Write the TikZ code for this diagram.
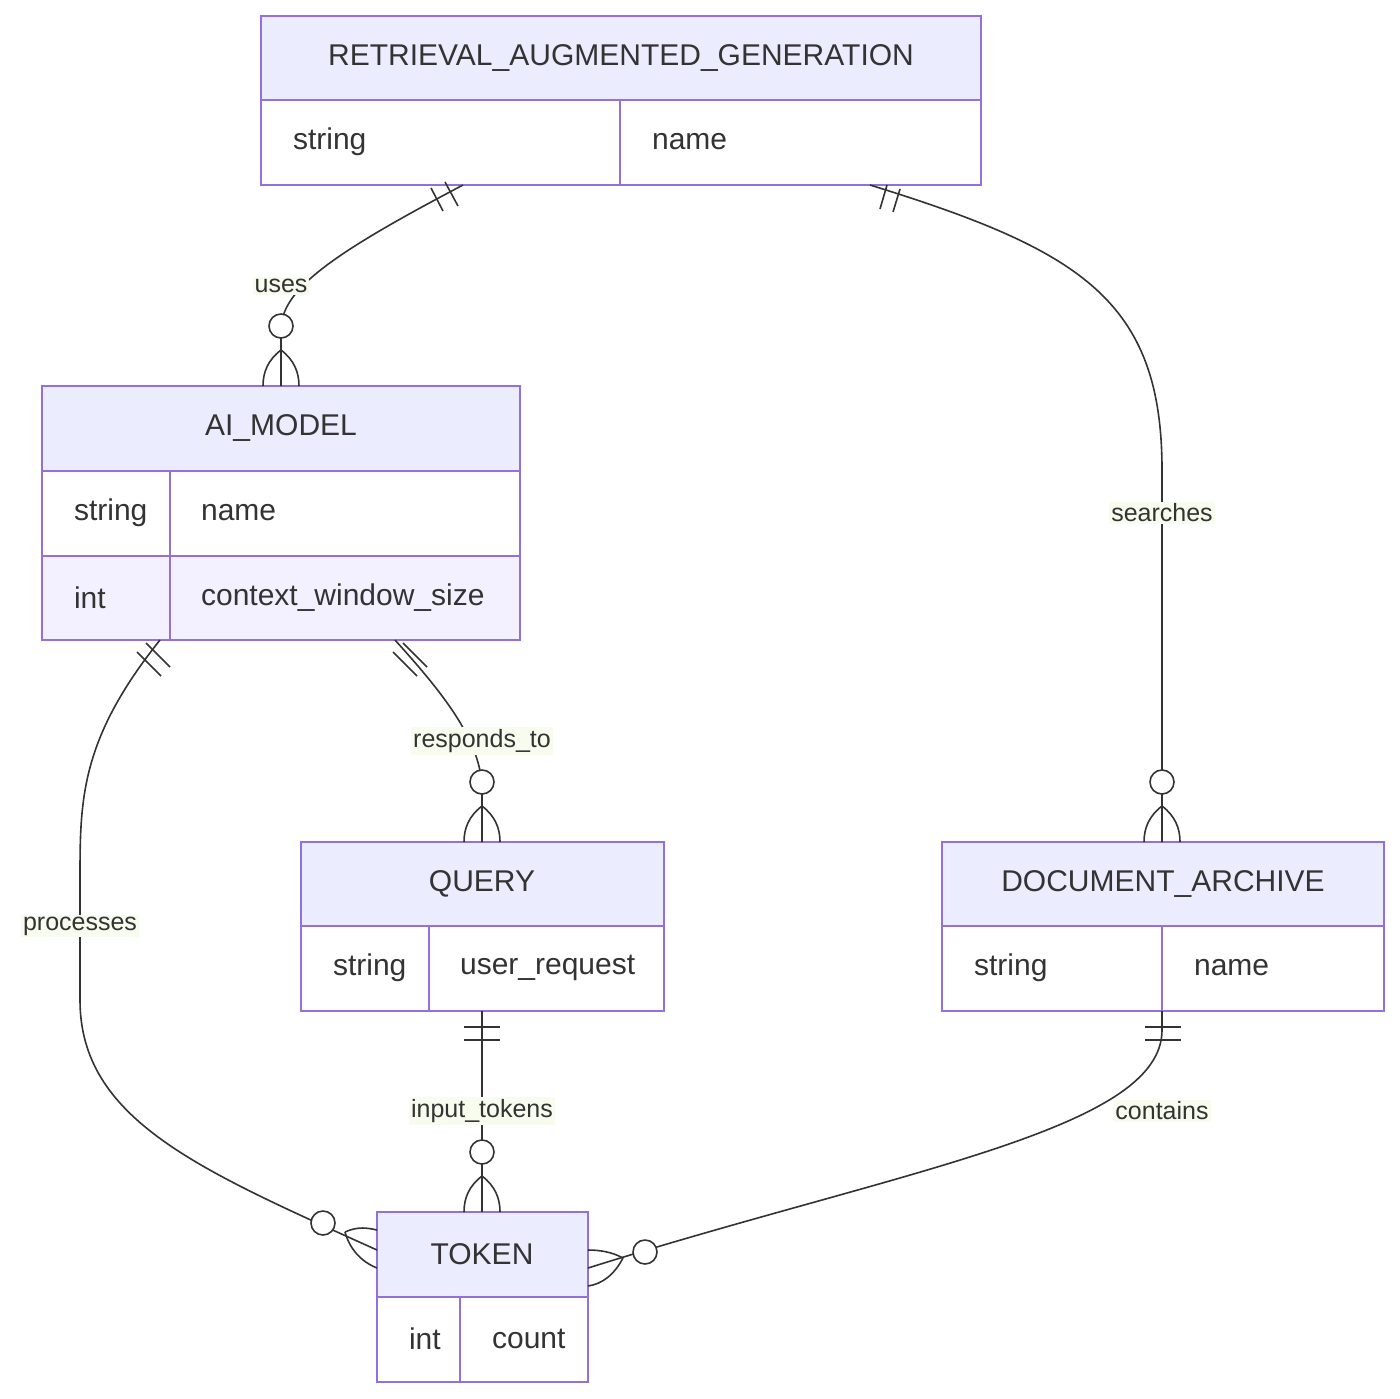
\documentclass[tikz,border=0pt]{standalone}
\usepackage{fontspec}
\setmainfont{Liberation Sans}
\usetikzlibrary{positioning}
\definecolor{entline}{HTML}{9370DB}
\definecolor{enthead}{HTML}{ECECFF}
\definecolor{entrow}{HTML}{F3F1FF}
\definecolor{ink}{HTML}{333333}
\definecolor{lblbg}{HTML}{F8FCEE}
\tikzset{
  head/.style={draw=entline,fill=enthead,line width=1pt},
  cell/.style={draw=entline,fill=white,line width=1pt},
  cellb/.style={draw=entline,fill=entrow,line width=1pt},
  etext/.style={text=ink,font=\fontsize{15}{18}\selectfont},
  ctext/.style={text=ink,font=\fontsize{15}{18}\selectfont,anchor=west},
  rel/.style={draw=ink,line width=0.8pt},
  lbl/.style={fill=lblbg,text=ink,font=\fontsize{12.5}{15}\selectfont,inner sep=1pt},
  ring/.style={draw=ink,fill=white,line width=0.8pt,circle,minimum size=12pt,inner sep=0pt}
}
\begin{document}
\begin{tikzpicture}[x=0.5pt,y=-0.5pt]
\useasboundingbox (0,0) rectangle (1400,1398);

% entity RETRIEVAL_AUGMENTED_GENERATION
\draw[head] (261,16) rectangle (981,100);
\draw[cell] (261,100) rectangle (620,185);
\draw[cell] (620,100) rectangle (981,185);
\node[etext] (rag) at (621,58) {RETRIEVAL\_AUGMENTED\_GENERATION};
\node[ctext] at (286,142) {string};
\node[ctext] at (645,142) {name};

% entity AI_MODEL
\draw[head] (42,386) rectangle (520,471);
\draw[cell] (42,471) rectangle (170,556);
\draw[cell] (170,471) rectangle (520,556);
\draw[cellb] (42,556) rectangle (170,640);
\draw[cellb] (170,556) rectangle (520,640);
\node[etext] (model) at (281,428) {AI\_MODEL};
\node[ctext] at (67,513) {string};
\node[ctext] at (194,513) {name};
\node[ctext] at (67,598) {int};
\node[ctext] at (194,598) {context\_window\_size};

% entity QUERY
\draw[head] (301,842) rectangle (664,926);
\draw[cell] (301,926) rectangle (429,1011);
\draw[cell] (429,926) rectangle (664,1011);
\node[etext] (query) at (482,884) {QUERY};
\node[ctext] at (326,968) {string};
\node[ctext] at (453,968) {user\_request};

% entity DOCUMENT_ARCHIVE
\draw[head] (942,842) rectangle (1384,926);
\draw[cell] (942,926) rectangle (1162,1011);
\draw[cell] (1162,926) rectangle (1384,1011);
\node[etext] (archive) at (1163,884) {DOCUMENT\_ARCHIVE};
\node[ctext] at (967,968) {string};
\node[ctext] at (1187,968) {name};

% entity TOKEN
\draw[head] (377,1212) rectangle (588,1297);
\draw[cell] (377,1297) rectangle (460,1382);
\draw[cell] (460,1297) rectangle (588,1382);
\node[etext] (token) at (482,1254) {TOKEN};
\node[ctext] at (402,1339) {int};
\node[ctext] at (485,1339) {count};

% end points
\coordinate (ragA) at (463,185);
\coordinate (ragB) at (870,185);
\coordinate (modelT) at (281,386);
\coordinate (modelA) at (160,640);
\coordinate (modelB) at (395,640);
\coordinate (queryT) at (482,842);
\coordinate (queryB) at (482,1011);
\coordinate (archT) at (1162,842);
\coordinate (archB) at (1162,1011);
\coordinate (tokT) at (482,1212);
\coordinate (tokL) at (377,1250);
\coordinate (tokR) at (588,1268);

% relations
\draw[rel] (ragA) .. controls (330,255) and (281,290) .. (281,330) -- (modelT);
\draw[rel] (ragB) .. controls (1080,250) and (1162,300) .. (1162,470) -- (archT);
\draw[rel] (modelB) .. controls (440,690) and (482,740) .. (482,790) -- (queryT);
\draw[rel] (modelA) .. controls (80,740) and (80,800) .. (80,880) -- (80,1000)
  .. controls (80,1120) and (200,1170) .. (tokL);
\draw[rel] (queryB) -- (tokT);
\draw[rel] (archB) -- (1162,1030) .. controls (1162,1130) and (900,1170) .. (tokR);

% labels
\node[lbl] at (281,286) {uses};
\node[lbl] at (1162,513) {searches};
\node[lbl] at (482,741) {responds\_to};
\node[lbl] at (80,926) {processes};
\node[lbl] at (482,1111) {input\_tokens};
\node[lbl] at (1162,1111) {contains};

% one-bars
\draw[rel] (431,188) -- (443,211);  \draw[rel] (445,182) -- (458,206);
\draw[rel] (887,185) -- (880,209);  \draw[rel] (900,189) -- (893,212);
\draw[rel] (137,652) -- (161,676);  \draw[rel] (146,643) -- (170,667);
\draw[rel] (393,652) -- (417,676);  \draw[rel] (403,643) -- (427,667);
\draw[rel] (464,1027) -- (500,1027); \draw[rel] (464,1040) -- (500,1040);
\draw[rel] (1145,1027) -- (1181,1027); \draw[rel] (1145,1040) -- (1181,1040);

% crow feet
\draw[rel] (281,350) .. controls (268,360) and (263,372) .. (263,386);
\draw[rel] (281,350) .. controls (294,360) and (299,372) .. (299,386);
\draw[rel] (1162,806) .. controls (1149,816) and (1144,828) .. (1144,842);
\draw[rel] (1162,806) .. controls (1175,816) and (1180,828) .. (1180,842);
\draw[rel] (482,806) .. controls (469,816) and (464,828) .. (464,842);
\draw[rel] (482,806) .. controls (495,816) and (500,828) .. (500,842);
\draw[rel] (482,1176) .. controls (469,1186) and (464,1198) .. (464,1212);
\draw[rel] (482,1176) .. controls (495,1186) and (500,1198) .. (500,1212);
\draw[rel] (345,1232) .. controls (358,1226) and (368,1228) .. (377,1230);
\draw[rel] (345,1232) .. controls (350,1250) and (362,1262) .. (377,1268);
\draw[rel] (623,1258) .. controls (612,1252) and (600,1250) .. (588,1250);
\draw[rel] (623,1258) .. controls (614,1275) and (602,1284) .. (588,1286);

% rings
\node[ring] (r1) at (281,326) {};
\node[ring] (r2) at (1162,782) {};
\node[ring] (r3) at (482,782) {};
\node[ring] (r4) at (482,1152) {};
\node[ring] (r5) at (323,1223) {};
\node[ring] (r6) at (645,1252) {};
\end{tikzpicture}
\end{document}
